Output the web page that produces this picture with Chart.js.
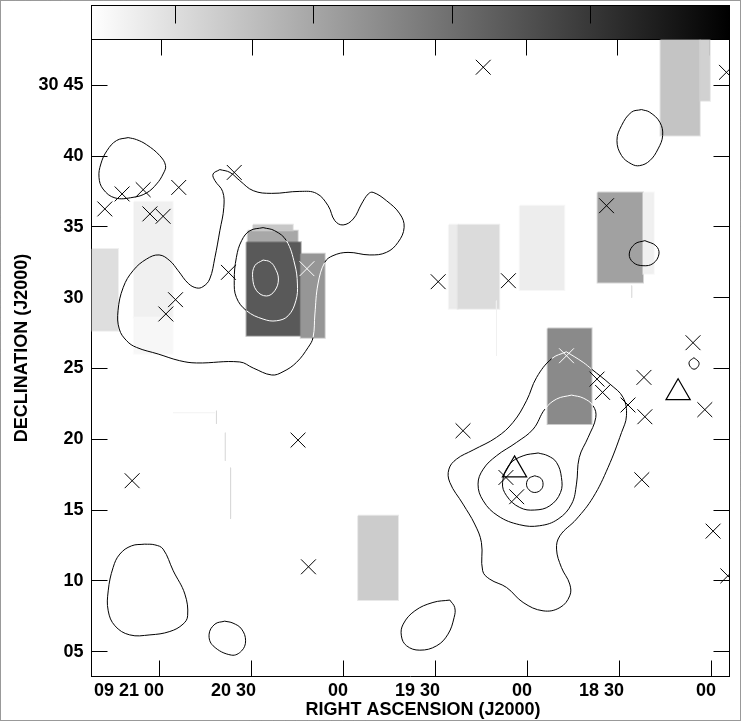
<!DOCTYPE html>
<html>
<head>
<meta charset="utf-8">
<style>html,body{margin:0;padding:0;background:#fff}canvas{display:block}</style>
<script src="https://cdn.jsdelivr.net/npm/chart.js@4/dist/chart.umd.min.js"></script>
</head>
<body>
<canvas id="c" width="741" height="721"></canvas>
<script>
// x = seconds of right ascension past 09 18 00, y = arcminutes of declination past 30 00
const raTicks = [180,150,120,90,60,30,0];
const raTickLabels = ['09 21 00','20 30','00','19 30','00','18 30','00'];
const decTicks = [45,40,35,30,25,20,15,10,5];
const decTickLabels = ['30 45','40','35','30','25','20','15','10','05'];
const colorbarTicks = [5,10,15,20];

const blockLeft   = [202.0,188.2,188.2,151.1,149.4,151.5,133.8,85.5,82.6,62.4,37.0,22.2,16.5,3.7,53.3,115.1];
const blockRight  = [193.4,175.6,175.6,134.8,136.4,133.8,126.0,82.6,69.1,47.9,22.2,18.7,3.7,0.4,39.0,102.1];
const blockTop    = [33.44,36.78,28.61,34.73,35.16,33.91,33.11,35.16,35.16,36.5,37.44,37.44,48.24,48.24,27.83,14.59];
const blockBottom = [27.67,28.61,26.04,33.91,34.73,27.31,27.17,29.22,29.22,30.54,31.08,31.70,41.45,43.92,21.07,8.64];
const blockLevel  = [0.13,0.06,0.03,0.34,0.22,0.65,0.41,0.08,0.14,0.07,0.37,0.06,0.23,0.18,0.46,0.20];

const crossesBlack = [[197.7,36.27],[192.07,37.33],[185.2,37.63],[173.6,37.79],[183.0,35.92],[178.7,35.75],[174.65,29.86],[177.8,28.85],[155.5,38.85],[157.4,31.79],[74.3,46.28],[-5.0,45.92],[89.0,31.13],[66.1,31.2],[34.1,36.5],[5.9,26.82],[134.7,19.94],[188.8,17.07],[131.3,10.99],[37.2,24.25],[21.9,24.37],[35.4,23.31],[27.1,22.42],[21.6,21.59],[2.05,22.09],[80.9,20.6],[66.9,17.3],[63.4,15.94],[22.6,17.14],[-0.65,13.51],[-5.45,10.35]];
const crossesWhite = [[131.8,32.05],[47.15,25.9]];
const triangles = [[10.76,23.29],[64.1,17.84]];

const contourA = [[190.1,41.31],[193.9,41.10],[197.0,40.39],[199.0,39.45],[199.6,38.50],[198.3,37.68],[194.4,37.05],[188.5,37.09],[184.1,37.40],[180.8,38.04],[178.7,38.74],[177.9,39.33],[179.8,40.04],[184.1,40.81],[187.4,41.17],[190.1,41.31]];
const contourB = [[160.2,39.05],[162.4,38.74],[161.8,38.27],[159.3,37.51],[158.9,36.38],[160.2,34.73],[161.8,32.85],[163.5,31.32],[165.7,30.78],[167.8,30.69],[170.5,31.01],[173.8,31.91],[176.5,32.61],[180.0,33.02],[184.1,32.73],[188.5,31.91],[191.7,30.73],[193.4,29.08],[193.0,27.79],[190.6,26.96],[187.4,26.49],[180.3,26.02],[173.3,25.55],[167.8,25.39],[153.7,25.46],[149.3,25.03],[143.3,24.54],[139.6,24.77],[135.2,25.43],[131.4,26.49],[129.8,27.19],[129.2,28.85],[128.2,30.97],[126.0,32.49],[123.3,32.97],[118.4,33.20],[111.3,33.02],[105.9,33.20],[102.1,33.91],[100.1,34.97],[101.5,35.92],[105.9,36.86],[110.2,37.44],[111.8,37.33],[114.0,36.62],[116.7,35.56],[120.0,35.14],[122.7,35.44],[124.9,36.50],[128.7,37.37],[134.1,37.51],[143.3,37.37],[149.3,37.56],[153.7,38.27],[156.9,38.85],[160.2,39.05]];
const contourC = [[146.1,34.95],[150.4,34.73],[153.1,34.03],[154.8,32.85],[155.5,31.20],[154.8,30.02],[151.5,29.08],[146.1,28.49],[141.7,28.37],[137.9,28.73],[135.4,29.79],[134.9,30.97],[135.8,32.38],[138.5,34.03],[142.3,34.73],[146.1,34.95]];
const contourD = [[146.1,32.66],[148.8,32.26],[149.5,31.43],[148.2,30.49],[145.0,30.12],[142.3,30.49],[141.1,31.32],[142.3,32.14],[143.9,32.54],[146.1,32.66]];
const contourE = [[22.7,43.29],[26.0,43.10],[29.2,42.16],[30.7,41.10],[29.2,40.04],[26.0,39.45],[23.3,39.33],[20.0,39.68],[17.3,40.51],[15.8,41.45],[16.7,42.39],[20.0,43.10],[22.7,43.29]];
const contourF = [[21.6,34.03],[24.9,33.79],[26.7,33.09],[25.4,32.49],[22.2,32.26],[18.9,32.42],[17.0,33.09],[18.0,33.67],[21.6,34.03]];
const contourG = [[5.6,25.76],[7.1,25.48],[6.9,25.16],[5.6,24.95],[4.3,25.12],[4.0,25.44],[5.6,25.76]];
const contourH = [[184.7,12.59],[189.0,12.47],[192.8,11.89],[195.0,10.94],[196.6,9.29],[196.6,7.88],[194.4,6.82],[189.6,6.18],[183.0,6.18],[176.5,6.42],[172.2,6.94],[170.7,7.53],[171.6,9.06],[175.4,10.71],[178.7,12.24],[181.4,12.54],[184.7,12.59]];
const contourI = [[158.6,7.15],[161.8,6.94],[163.7,6.23],[162.4,5.41],[156.4,4.75],[153.1,5.05],[151.8,5.76],[153.1,6.59],[155.9,7.01],[158.6,7.15]];
const contourJ = [[85.2,8.64],[90.7,8.47],[96.6,7.88],[100.4,6.94],[101.0,6.11],[99.3,5.41],[95.0,5.10],[89.5,5.41],[85.8,6.23],[83.8,7.41],[83.6,8.11],[85.2,8.64]];
const contourK = [[47.2,26.18],[52.0,25.69],[56.9,24.37],[60.2,22.72],[64.6,21.19],[70.0,20.13],[77.6,19.24],[83.0,18.60],[85.5,17.89],[85.2,16.95],[80.9,15.42],[77.1,14.01],[74.9,12.71],[74.5,10.71],[72.2,10.12],[66.7,9.53],[61.3,8.47],[54.8,7.88],[49.3,8.11],[46.1,8.94],[46.1,9.77],[48.8,10.94],[50.4,12.24],[49.3,13.18],[43.9,14.36],[38.5,15.89],[33.6,18.01],[29.2,20.48],[27.6,21.66],[28.7,22.95],[33.0,23.90],[39.0,24.96],[41.7,25.43],[47.2,26.18]];
const contourL = [[45.5,23.12],[50.4,22.84],[54.2,22.13],[58.0,20.72],[63.5,19.77],[70.0,18.83],[74.3,17.89],[76.0,16.83],[74.3,15.65],[69.5,14.59],[62.4,13.96],[55.9,13.89],[49.9,14.36],[45.5,15.42],[43.9,16.83],[43.0,18.71],[40.1,20.13],[37.6,21.54],[38.5,22.37],[41.7,22.91],[45.5,23.12]];
const contourM = [[56.4,19.03],[61.3,18.83],[65.6,18.25],[68.0,16.95],[66.7,16.01],[62.4,15.18],[57.5,15.00],[52.6,15.30],[49.1,16.24],[48.8,17.30],[50.4,18.36],[53.2,18.83],[56.4,19.03]];
const contourN = [[57.5,17.42],[59.4,17.24],[60.2,16.83],[59.4,16.43],[57.5,16.24],[55.5,16.43],[54.8,16.83],[55.5,17.24],[57.5,17.42]];
const contours = [contourA,contourB,contourC,contourD,contourE,contourF,contourG,contourH,contourI,contourJ,contourK,contourL,contourM,contourN];

const streakA = [[161.3,22.01],[161.3,21.10]];
const streakB = [[158.4,20.46],[158.4,18.48]];
const streakC = [[156.7,17.99],[156.7,14.38]];
const streakD = [[175.5,21.87],[161.8,21.87]];
const streakE = [[70.0,29.79],[70.0,25.90]];
const streakF = [[25.9,30.85],[25.9,30.00]];
const streaks = [streakA,streakB,streakC,streakD,streakE,streakF];
const streakLevel = [0.15,0.12,0.15,0.05,0.06,0.12];

const toPoints = list => list.map(p => ({x:p[0], y:p[1]}));
const grey = (level, a) => { const g = Math.round(255*(1-level)); return `rgba(${g},${g},${g},${a})`; };
const DARK = 0.4;
const inDarkBlock = (x,y) => blockLevel.some((l,i) => l > DARK && x<=blockLeft[i] && x>=blockRight[i] && y<=blockTop[i] && y>=blockBottom[i]);

const datasets = [];
blockLevel.forEach((level,i) => {
  datasets.push({
    type:'scatter', showLine:true, order:20-i,
    data:[{x:blockLeft[i],y:blockTop[i]},{x:blockRight[i],y:blockTop[i]},{x:blockRight[i],y:blockBottom[i]},{x:blockLeft[i],y:blockBottom[i]},{x:blockLeft[i],y:blockTop[i]}],
    backgroundColor:grey(level,1), fill:'shape', borderColor:grey(level,0.45), borderWidth:2,
    pointRadius:0, tension:0
  });
});
streaks.forEach((s,i) => datasets.push({
  type:'scatter', showLine:true, order:4, data:toPoints(s),
  borderColor:grey(streakLevel[i],1), borderWidth:1, pointRadius:0, tension:0
}));
contours.forEach(c => datasets.push({
  type:'scatter', showLine:true, order:3, data:toPoints(c), tension:0.4,
  borderColor:'#000', borderWidth:1, pointRadius:0,
  segment:{borderColor:ctx => inDarkBlock((ctx.p0.parsed.x+ctx.p1.parsed.x)/2,(ctx.p0.parsed.y+ctx.p1.parsed.y)/2) ? '#fff' : '#000'}
}));
datasets.push({type:'scatter',order:2,data:toPoints(crossesBlack),pointStyle:'crossRot',radius:10.5,borderColor:'#000',borderWidth:1,backgroundColor:'transparent',clip:0});
datasets.push({type:'scatter',order:2,data:toPoints(crossesWhite),pointStyle:'crossRot',radius:10.5,borderColor:'#fff',borderWidth:1,backgroundColor:'transparent',clip:0});
datasets.push({type:'scatter',order:1,data:toPoints(triangles),pointStyle:'triangle',radius:14,borderColor:'#000',borderWidth:1.2,backgroundColor:'transparent',clip:0});

const FONT = {family:"'Liberation Sans', Arial, sans-serif", size:18, weight:'bold'};
const noPad = s => { s.paddingLeft=s.paddingRight=s.paddingTop=s.paddingBottom=0; };
const fixedHeight = h => s => { s.height=h; noPad(s); };
const fixedWidth = w => s => { s.width=w; noPad(s); };
const setTicks = vals => s => { s.ticks = vals.map(v => ({value:v})); };
const gridOpts = {drawOnChartArea:false, drawTicks:true, tickLength:-16, color:'#000', lineWidth:1};
const borderOpts = {display:true, color:'#000', width:1};

const framePlugin = {
  id:'frame',
  beforeDraw(chart){
    const ctx = chart.ctx, cb = chart.scales.cb, a = chart.chartArea;
    ctx.save();
    ctx.fillStyle='#fff'; ctx.fillRect(0,0,chart.width,chart.height);
    const x0 = cb.getPixelForValue(cb.min), x1 = cb.getPixelForValue(cb.max);
    const top = 5.5, bottom = a.top;
    const g = ctx.createLinearGradient(x0,0,x1,0);
    g.addColorStop(0,'#fff'); g.addColorStop(1,'#000');
    ctx.fillStyle=g; ctx.fillRect(x0,top,x1-x0,bottom-top);
    ctx.strokeStyle='#000'; ctx.lineWidth=1;
    ctx.strokeRect(x0,top,x1-x0,bottom-top);
    colorbarTicks.forEach(v => {
      const x = Math.round(cb.getPixelForValue(v))+0.5;
      ctx.beginPath(); ctx.moveTo(x,top); ctx.lineTo(x,top+18); ctx.stroke();
    });
    ctx.strokeStyle='#333'; ctx.setLineDash([1,1]);
    ctx.strokeRect(0.5,0.5,chart.width-1,chart.height-1);
    ctx.restore();
  }
};

new Chart(document.getElementById('c'), {
  type:'scatter',
  data:{datasets},
  plugins:[framePlugin],
  options:{
    responsive:false, animation:false,
    layout:{autoPadding:false,padding:{left:0,right:11.5,top:39.5,bottom:0}},
    plugins:{legend:{display:false},tooltip:{enabled:false}},
    scales:{
      x:{type:'linear',position:'bottom',reverse:true,min:-6.0,max:202.05,
        afterBuildTicks:setTicks(raTicks),afterFit:fixedHeight(44.5),
        grid:gridOpts,border:borderOpts,
        title:{display:true,text:'     RIGHT ASCENSION (J2000)',color:'#000',font:FONT,padding:{top:0,bottom:0}},
        ticks:{color:'#000',font:FONT,padding:20,align:'end',labelOffset:5,maxRotation:0,autoSkip:false,
          callback:(v,i)=>raTickLabels[i]}},
      xTop:{type:'linear',position:'top',reverse:true,min:-6.7,max:202.86,
        afterBuildTicks:setTicks(raTicks),afterFit:fixedHeight(0),
        grid:gridOpts,border:borderOpts,
        ticks:{display:false,autoSkip:false}},
      y:{type:'linear',position:'left',min:3.24,max:48.24,
        afterBuildTicks:setTicks(decTicks),afterFit:fixedWidth(91.5),
        grid:gridOpts,border:borderOpts,
        title:{display:true,text:'    DECLINATION (J2000)',color:'#000',font:FONT,padding:{top:11,bottom:0}},
        ticks:{color:'#000',font:FONT,padding:24,autoSkip:false,
          callback:(v,i)=>decTickLabels[i]}},
      yRight:{type:'linear',position:'right',min:3.24,max:48.24,
        afterBuildTicks:setTicks(decTicks),afterFit:fixedWidth(0),
        grid:gridOpts,border:borderOpts,
        ticks:{display:false,autoSkip:false}},
      cb:{type:'linear',axis:'x',display:false,min:1.97,max:25.05}
    }
  }
});
</script>
</body>
</html>
